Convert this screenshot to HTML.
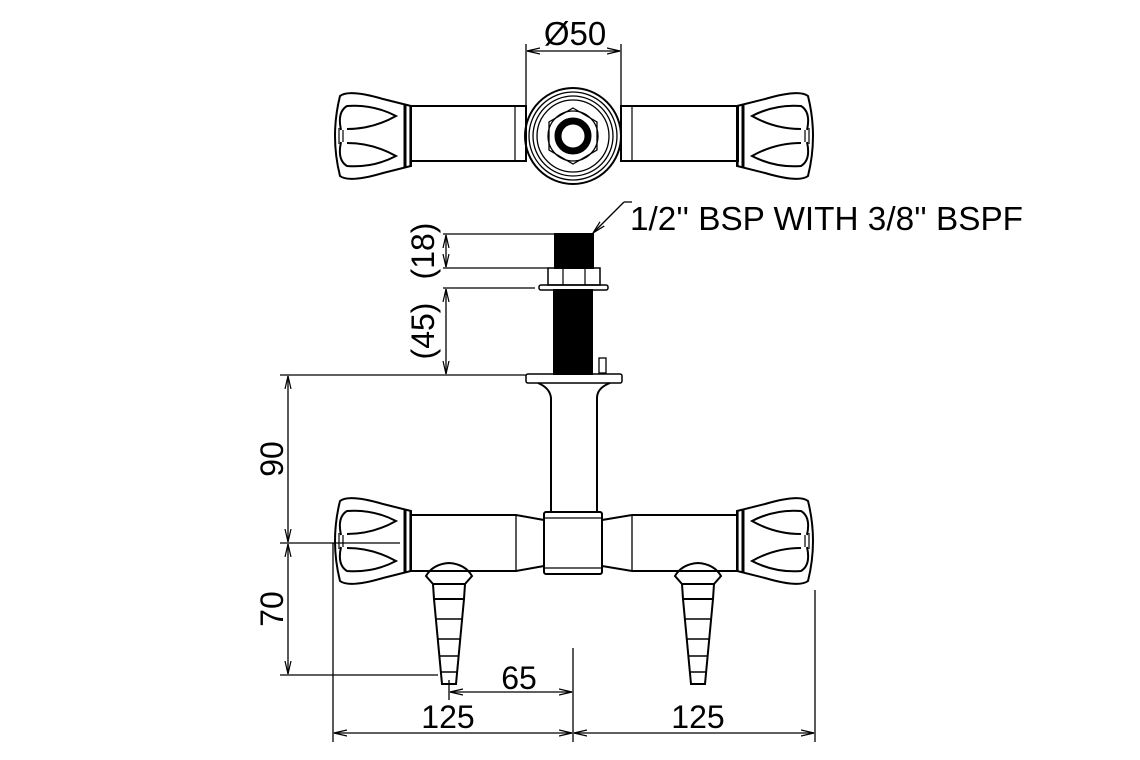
<!DOCTYPE html>
<html><head><style>html,body{margin:0;padding:0;background:#fff}svg{display:block}</style></head>
<body>
<svg width="1140" height="760" viewBox="0 0 1140 760" xmlns="http://www.w3.org/2000/svg" font-family="'Liberation Sans',sans-serif">
<defs>
<marker id="a" markerWidth="14" markerHeight="8" refX="13" refY="4" orient="auto-start-reverse" markerUnits="userSpaceOnUse"><path d="M0,1 L13,4 L0,7" fill="none" stroke="#000" stroke-width="1.2"/></marker>
<g id="h" fill="none" stroke="#000" stroke-width="2">
<path d="M78,-30 L50,-37 Q16,-47 7,-40 Q-3,0 7,40 Q16,47 50,37 L78,30 Z"/>
<path d="M8,-6 Q4,-24 14,-30 Q40,-32 63,-20 Q40,-7 14,-7"/>
<path d="M8,6 Q4,24 14,30 Q40,32 63,20 Q40,7 14,7"/>
<path d="M6,-8 L6,8 M10,-6 L10,6" stroke-width="1.2"/>
<line x1="72" y1="-31" x2="72" y2="31" stroke-width="3"/>
<line x1="77" y1="-30" x2="77" y2="30" stroke-width="1.2"/>
</g>
<g id="n" fill="none" stroke="#000" stroke-width="2">
<path d="M-23,2 Q-16,-10 0,-11 Q16,-10 23,2 L16,10 L-16,10 Z"/>
<path d="M-16,10 L-15,25 L15,25 L16,10"/>
<path d="M-15,25 L-7,110 L7,110 L15,25"/>
<path d="M-13,45 L13,45 M-11,65 L11,65 M-10,82 L10,82 M-8,98 L8,98" stroke-width="1.5"/>
</g>
</defs>
<g stroke="#000" fill="none" stroke-width="2">
<use href="#h" x="333" y="136"/>
<use href="#h" transform="translate(815,136) scale(-1,1)"/>
<rect x="411" y="106" width="115" height="55"/>
<rect x="621" y="106" width="117" height="55"/>
<line x1="515" y1="106" x2="515" y2="161" stroke-width="1.2"/>
<line x1="632" y1="106" x2="632" y2="161" stroke-width="1.2"/>
<circle cx="573" cy="136" r="48"/>
<circle cx="573" cy="136" r="44" stroke-width="1.3"/>
<circle cx="573" cy="136" r="40" stroke-width="1.3"/>
<circle cx="573" cy="136" r="36" stroke-width="1.3"/>
<polygon points="573,108 597,122 597,150 573,164 549,150 549,122" stroke-width="1.3"/>
<circle cx="573" cy="136" r="25" stroke-width="1.3"/>
<circle cx="573" cy="136" r="15" stroke-width="7"/>
<g stroke-width="1.3"><line x1="526" y1="44" x2="526" y2="106"/><line x1="621" y1="44" x2="621" y2="106"/>
<line x1="527" y1="51" x2="620" y2="51" marker-start="url(#a)" marker-end="url(#a)"/></g>
<rect x="555" y="234" width="38" height="34" fill="#000"/>
<rect x="548" y="268" width="52" height="17" stroke-width="1.5"/>
<line x1="563" y1="268" x2="563" y2="285" stroke-width="1.2"/><line x1="585" y1="268" x2="585" y2="285" stroke-width="1.2"/>
<rect x="539" y="285" width="69" height="5" rx="2" stroke-width="1.5"/>
<rect x="554" y="290" width="38" height="84" fill="#000"/>
<rect x="599" y="358" width="7" height="15" stroke-width="1.3"/>
<rect x="526" y="374" width="96" height="9" rx="2" stroke-width="1.5"/>
<path d="M538,383 Q550,388 551,398 L551,513 M610,383 Q597,388 597,398 L597,513"/>
<use href="#h" x="333" y="541"/>
<use href="#h" transform="translate(815,541) scale(-1,1)"/>
<path d="M411,515 L516,515 L544,520 M411,571 L516,571 L544,566"/>
<path d="M737,515 L632,515 L602,520 M737,571 L632,571 L602,566"/>
<line x1="516" y1="515" x2="516" y2="571" stroke-width="1.3"/>
<line x1="632" y1="515" x2="632" y2="571" stroke-width="1.3"/>
<rect x="544" y="512" width="58" height="62" rx="2"/>
<line x1="544" y1="518" x2="602" y2="518" stroke-width="1.2"/><line x1="544" y1="568" x2="602" y2="568" stroke-width="1.2"/>
<use href="#n" x="449" y="574"/>
<use href="#n" x="698" y="574"/>
<g stroke-width="1.3">
<line x1="443" y1="234" x2="555" y2="234"/><line x1="443" y1="268" x2="548" y2="268"/>
<line x1="443" y1="288" x2="535" y2="288"/><line x1="280" y1="375" x2="526" y2="375"/>
<line x1="446" y1="235" x2="446" y2="267" marker-start="url(#a)" marker-end="url(#a)"/>
<line x1="446" y1="289" x2="446" y2="374" marker-start="url(#a)" marker-end="url(#a)"/>
<line x1="280" y1="543" x2="400" y2="543"/><line x1="280" y1="675" x2="438" y2="675"/>
<line x1="288" y1="376" x2="288" y2="542" marker-start="url(#a)" marker-end="url(#a)"/>
<line x1="288" y1="544" x2="288" y2="674" marker-start="url(#a)" marker-end="url(#a)"/>
<line x1="449" y1="680" x2="449" y2="700"/><line x1="573" y1="648" x2="573" y2="742"/>
<line x1="450" y1="692" x2="572" y2="692" marker-start="url(#a)" marker-end="url(#a)"/>
<line x1="333" y1="543" x2="333" y2="742"/><line x1="815" y1="590" x2="815" y2="742"/>
<line x1="334" y1="733" x2="572" y2="733" marker-start="url(#a)" marker-end="url(#a)"/>
<line x1="574" y1="733" x2="814" y2="733" marker-start="url(#a)" marker-end="url(#a)"/>
<line x1="593" y1="233" x2="624" y2="202" marker-start="url(#a)"/><line x1="624" y1="202" x2="632" y2="202"/>
</g>
</g>
<g font-size="32" fill="#000">
<text x="575" y="45" text-anchor="middle" font-size="33">Ø50</text>
<text x="630" y="230" font-size="33" textLength="393" lengthAdjust="spacingAndGlyphs">1/2'' BSP WITH 3/8'' BSPF</text>
<text transform="translate(434,251) rotate(-90)" text-anchor="middle">(18)</text>
<text transform="translate(434,331) rotate(-90)" text-anchor="middle">(45)</text>
<text transform="translate(283,459) rotate(-90)" text-anchor="middle">90</text>
<text transform="translate(283,609) rotate(-90)" text-anchor="middle">70</text>
<text x="519" y="689" text-anchor="middle">65</text>
<text x="448" y="728" text-anchor="middle">125</text>
<text x="698" y="728" text-anchor="middle">125</text>
</g>
</svg>
</body></html>
